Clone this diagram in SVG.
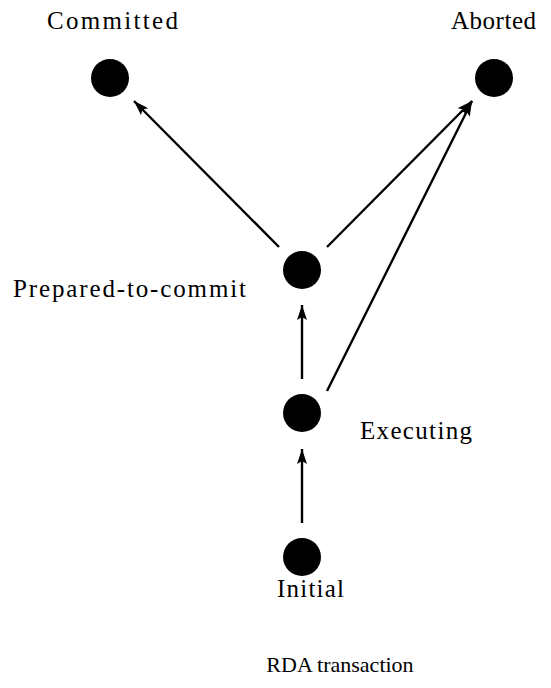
<svg xmlns="http://www.w3.org/2000/svg" width="551" height="688" viewBox="0 0 551 688">
<style>
.n{fill:#000}
.t{font-family:"Liberation Serif","Times New Roman",serif;font-size:25px;fill:#000}
.c{stroke:#000;stroke-width:2.4;fill:none;marker-end:url(#ah)}
</style>
<defs>
<marker id="ah" markerUnits="userSpaceOnUse" markerWidth="16" markerHeight="10" refX="15" refY="5" orient="auto">
<path d="M0,0 L15,5 L0,10 L3,5 Z" fill="#000"/>
</marker>
</defs>
<rect width="551" height="688" fill="#fff"/>
<g id="connectors">
<line class="c" x1="279" y1="247" x2="134" y2="101"/>
<line class="c" x1="327" y1="247" x2="472" y2="101"/>
<line class="c" x1="327" y1="391" x2="472" y2="101"/>
<line class="c" x1="302" y1="379" x2="302" y2="305"/>
<line class="c" x1="302" y1="523" x2="302" y2="449"/>
</g>
<g id="committed"><circle class="n" cx="110" cy="78" r="19"/><text class="t" x="47" y="29" textLength="131">Committed</text></g>
<g id="aborted"><circle class="n" cx="494" cy="78" r="19"/><text class="t" x="451" y="29" textLength="85">Aborted</text></g>
<g id="prepared"><circle class="n" cx="302" cy="270" r="19"/><text class="t" x="13" y="297" textLength="233">Prepared-to-commit</text></g>
<g id="executing"><circle class="n" cx="302" cy="413" r="19"/><text class="t" x="360" y="439" textLength="112">Executing</text></g>
<g id="initial"><circle class="n" cx="302" cy="557" r="19"/><text class="t" x="277" y="597" textLength="67">Initial</text></g>
<text id="caption" class="t" x="340" y="672" text-anchor="middle" style="font-size:22px">RDA transaction</text>
</svg>
